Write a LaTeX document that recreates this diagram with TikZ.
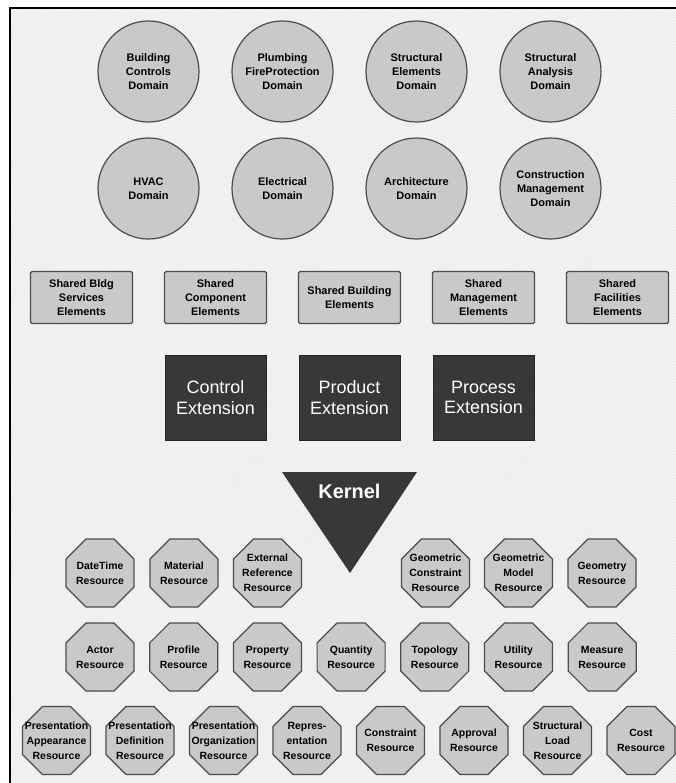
\documentclass[tikz,border=0pt]{standalone}
\usepackage{fontspec}
\setmainfont{Liberation Sans}
\usetikzlibrary{shapes.geometric,patterns}

\begin{document}
\begin{tikzpicture}[
  x=1bp, y=-1bp,
  every node/.style={align=center, inner sep=0pt, font=\fontsize{11}{13.8}\selectfont\bfseries},
  dom/.style={circle, draw=black!70, line width=1.2bp, fill=gray!42, minimum size=101bp},
  shelem/.style={rectangle, rounded corners=1.5bp, draw=black!70, line width=1.2bp, fill=gray!42, minimum width=102bp, minimum height=52bp},
  extbox/.style={rectangle, draw=black!85, fill=black!78, text=white, minimum width=101bp, minimum height=85bp, font=\fontsize{18}{20.5}\selectfont},
  resrc/.style={regular polygon, regular polygon sides=8, draw=black!70, line width=1.2bp, fill=gray!42, minimum size=73.6bp, inner xsep=-15bp, inner ysep=-3bp, font=\fontsize{10.5}{15}\selectfont\bfseries}
]
\useasboundingbox (0,0) rectangle (676,783);

% background and frame
\fill[gray!9] (10,8) rectangle (676,783);
\fill[pattern=north east lines, pattern color=gray!18] (10,8) rectangle (676,783);
\draw[line width=2bp] (10,783) -- (10,8) -- (676,8);

% domain layer
\foreach \name/\lbl [count=\i] in {bldgctrl/{Building\\Controls\\Domain}, plumbing/{Plumbing\\FireProtection\\Domain}, strucelem/{Structural\\Elements\\Domain}, strucanal/{Structural\\Analysis\\Domain}} {
  \node[dom] (\name) at ({148.5+134*(\i-1)}, 71.5) {\lbl};
}
\foreach \name/\lbl [count=\i] in {hvac/{HVAC\\Domain}, electrical/{Electrical\\Domain}, architecture/{Architecture\\Domain}, constrmgmt/{Construction\\Management\\Domain}} {
  \node[dom] (\name) at ({148.5+134*(\i-1)}, 188.5) {\lbl};
}

% interoperability layer
\foreach \name/\lbl [count=\i] in {shbldgsvc/{Shared Bldg\\Services\\Elements}, shcomp/{Shared\\Component\\Elements}, shbldg/{Shared Building\\Elements}, shmgmt/{Shared\\Management\\Elements}, shfacil/{Shared\\Facilities\\Elements}} {
  \node[shelem] (\name) at ({81.5+134*(\i-1)}, 297.5) {\lbl};
}

% core layer
\node[extbox] (control) at (215.5, 397.5) {Control\\Extension};
\node[extbox] (product) at (349.5, 397.5) {Product\\Extension};
\node[extbox] (process) at (483.5, 397.5) {Process\\Extension};

\fill[black!78] (282,472) -- (417,472) -- (350,573) -- cycle;
\node[text=white, font=\fontsize{20}{24}\selectfont\bfseries] (kernel) at (349.5, 491) {Kernel};

% resource layer
\foreach \name/\xx/\lbl in {datetime/100/{DateTime\\Resource}, material/184/{Material\\Resource}, extref/267.5/{External\\Reference\\Resource}, geomconstr/435.5/{Geometric\\Constraint\\Resource}, geommodel/518.5/{Geometric\\Model\\Resource}, geometry/602/{Geometry\\Resource}} {
  \node[resrc] (\name) at (\xx, 573) {\lbl};
}
\foreach \name/\lbl [count=\i] in {actor/{Actor\\Resource}, profile/{Profile\\Resource}, property/{Property\\Resource}, quantity/{Quantity\\Resource}, topology/{Topology\\Resource}, utility/{Utility\\Resource}, measure/{Measure\\Resource}} {
  \node[resrc] (\name) at ({100+83.7*(\i-1)}, 657) {\lbl};
}
\foreach \name/\lbl [count=\i] in {presappear/{Presentation\\Appearance\\Resource}, presdef/{Presentation\\Definition\\Resource}, presorg/{Presentation\\Organization\\Resource}, repres/{Repres-\\entation\\Resource}, constraint/{Constraint\\Resource}, approval/{Approval\\Resource}, strucload/{Structural\\Load\\Resource}, cost/{Cost\\Resource}} {
  \node[resrc] (\name) at ({56.5+83.5*(\i-1)}, 740.5) {\lbl};
}

\end{tikzpicture}
\end{document}
